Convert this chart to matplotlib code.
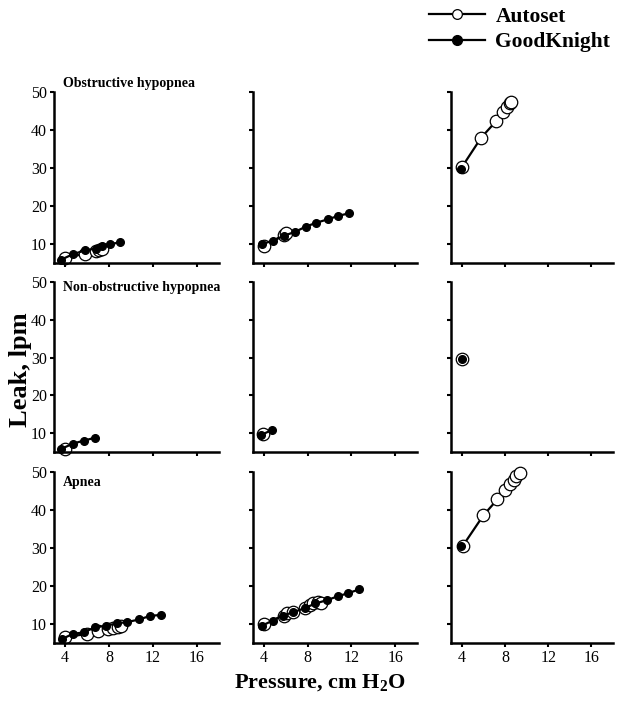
import matplotlib
matplotlib.use("Agg")
import matplotlib.pyplot as plt
from matplotlib.lines import Line2D

plt.rcParams['font.family'] = ['Liberation Serif', 'DejaVu Serif']
plt.rcParams['mathtext.fontset'] = 'custom'
plt.rcParams['mathtext.rm'] = 'Liberation Serif:bold'
plt.rcParams['mathtext.bf'] = 'Liberation Serif:bold'

### data (pressure cm H2O, leak lpm), one list per column ###

row_titles = ["Obstructive hypopnea", "Non-obstructive hypopnea", "Apnea"]

# Obstructive hypopnea
oh_auto_p = [[4.0, 5.8, 6.8, 7.1, 7.4], [4.0, 5.8, 6.0],
             [4.0, 5.8, 7.2, 7.85, 8.2, 8.45, 8.6]]
oh_auto_l = [[6.2, 7.5, 8.2, 8.5, 8.8], [9.6, 12.3, 12.8],
             [30.2, 38.0, 42.4, 44.8, 46.1, 47.0, 47.4]]
oh_good_p = [[3.6, 4.7, 5.8, 6.8, 7.4, 8.1, 9.0],
             [3.85, 4.85, 5.85, 6.85, 7.85, 8.8, 9.85, 10.8, 11.8], [3.95]]
oh_good_l = [[5.8, 7.3, 8.3, 8.8, 9.6, 10.0, 10.4],
             [10.0, 10.9, 12.2, 13.2, 14.6, 15.6, 16.5, 17.4, 18.1], [29.7]]

# Non-obstructive hypopnea
nh_auto_p = [[4.0], [3.9], [4.0]]
nh_auto_l = [[5.8], [9.7], [29.6]]
nh_good_p = [[3.6, 4.75, 5.7, 6.75], [3.75, 4.7], [4.0]]
nh_good_l = [[5.75, 7.25, 8.0, 8.8], [9.5, 10.8], [29.5]]

# Apnea
ap_auto_p = [[4.0, 6.0, 7.0, 7.9, 8.4, 8.8, 9.1],
             [4.0, 5.8, 6.1, 6.7, 7.75, 8.2, 8.5, 8.95, 9.2],
             [4.1, 6.0, 7.3, 8.0, 8.5, 8.8, 9.0, 9.4]]
ap_auto_l = [[6.5, 7.4, 8.2, 8.7, 9.0, 9.3, 9.5],
             [10.0, 12.2, 12.8, 13.1, 14.3, 15.0, 15.4, 15.7, 15.6],
             [30.6, 38.6, 42.8, 45.2, 46.8, 48.0, 48.9, 49.7]]
ap_good_p = [[3.7, 4.7, 5.7, 6.7, 7.7, 8.75, 9.65, 10.75, 11.7, 12.7],
             [3.85, 4.8, 5.7, 6.7, 7.75, 8.7, 9.8, 10.75, 11.7, 12.7], [3.95]]
ap_good_l = [[6.0, 7.4, 7.8, 9.1, 9.5, 10.2, 10.5, 11.2, 12.1, 12.4],
             [9.6, 10.9, 12.2, 13.1, 14.2, 15.4, 16.3, 17.3, 18.1, 19.1], [30.4]]

auto_p = [oh_auto_p, nh_auto_p, ap_auto_p]
auto_l = [oh_auto_l, nh_auto_l, ap_auto_l]
good_p = [oh_good_p, nh_good_p, ap_good_p]
good_l = [oh_good_l, nh_good_l, ap_good_l]

x_ticks = [4, 8, 12, 16]
y_ticks = [10, 20, 30, 40, 50]

W, H = 619, 707
fig = plt.figure(figsize=(W / 100, H / 100), dpi=100)

# axes boxes in pixels (left, right) and (top, bottom)
cols = [(54, 219), (253, 417), (451, 613)]
rows = [(92, 263), (282, 452), (472, 643)]
title_y = [1.05, 0.965, 0.94]

open_kw = dict(color="black", lw=1.6, marker="o", ms=9, mfc="white",
               mec="black", mew=0.9)
fill_kw = dict(color="black", lw=1.6, marker="o", ms=5.5, mfc="black",
               mec="black")

for r, (top, bot) in enumerate(rows):
    for c, (lft, rgt) in enumerate(cols):
        ax = fig.add_axes([lft / W, 1 - bot / H, (rgt - lft) / W, (bot - top) / H])
        ax.plot(auto_p[r][c], auto_l[r][c], clip_on=False, **open_kw)
        ax.plot(good_p[r][c], good_l[r][c], clip_on=False, **fill_kw)
        ax.set_xlim(3, 18)
        ax.set_ylim(5, 50)
        ax.set_xticks(x_ticks)
        ax.set_yticks(y_ticks)
        for s in ["top", "right"]:
            ax.spines[s].set_visible(False)
        for s in ["left", "bottom"]:
            ax.spines[s].set_linewidth(1.8)
        ax.tick_params(width=1.5, length=3, labelsize=11.5, pad=2)
        if c > 0:
            ax.set_yticklabels([])
        if r < 2:
            ax.set_xticklabels([])
        if c == 0:
            ax.text(0.055, title_y[r], row_titles[r], transform=ax.transAxes,
                    fontsize=10, fontweight="bold", va="center", ha="left")

fig.text(21 / W, 1 - 370 / H, "Leak, lpm", rotation=90, fontsize=19,
         fontweight="bold", ha="center", va="center")
fig.text(320 / W, 1 - 683 / H, r"Pressure, cm H$_{\mathbf{2}}$O", fontsize=16,
         fontweight="bold", ha="center", va="center")

handles = [Line2D([], [], **dict(open_kw, ms=7)),
           Line2D([], [], **dict(fill_kw, ms=7))]
fig.legend(handles, ["Autoset", "GoodKnight"], loc="upper left",
           bbox_to_anchor=(418 / W, 1 + 4 / H), frameon=False,
           prop=dict(size=15.5, weight="bold"), handlelength=2.6,
           handletextpad=0.5, labelspacing=0.25, borderpad=0.0)

fig.savefig("out.png", dpi=100)
